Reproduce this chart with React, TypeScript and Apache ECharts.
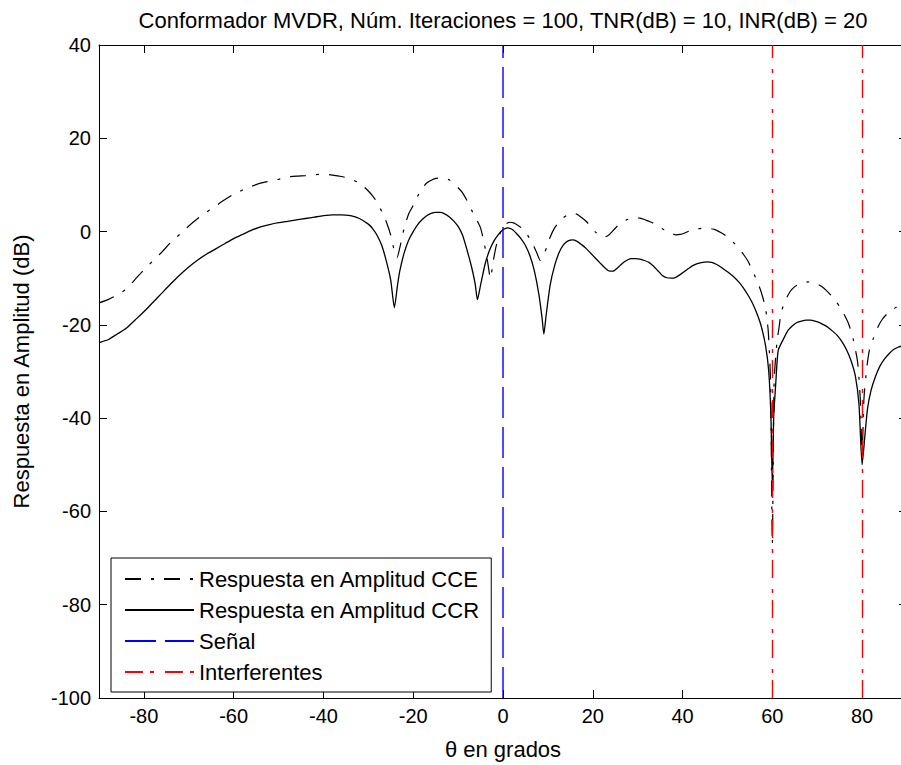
import React, { useEffect, useRef } from "react";
import * as echarts from "echarts";

const titleText = "Conformador MVDR, Núm. Iteraciones = 100, TNR(dB) = 10, INR(dB) = 20";
const xName = "θ en grados";
const yName = "Respuesta en Amplitud (dB)";
const seriesNames = [
  "Respuesta en Amplitud CCE",
  "Respuesta en Amplitud CCR",
  "Señal",
  "Interferentes",
];

const ccrTheta = [
  -90, -88, -86, -84, -82, -80, -78, -76, -74, -72, -70, -68, -66, -64, -62, -60, -58, -56, -54, -52,
  -50, -48, -46, -44, -42, -40, -38, -36, -34, -32, -30, -29, -28, -27, -26, -25, -24.2, -23.5, -23, -22,
  -21, -20, -19, -18, -17, -16, -15, -14, -13, -12, -11, -10, -9, -8, -7, -6.2, -5.7, -5, -4, -3,
  -2, -1, 0, 1, 2, 3, 4, 5, 6, 7, 8, 8.7, 9.1, 9.6, 10.5, 11.5, 12.5, 13.5, 14.5, 15.5,
  16.5, 17.5, 18.5, 19.5, 20.5, 21.5, 22.5, 23.5, 24.5, 25.5, 26.5, 27.5, 28.5, 29.5, 30.5, 31.5, 32.5, 33.5, 34.5, 35.5,
  36.5, 37.5, 38.5, 39.5, 40.5, 41.5, 42.5, 43.5, 44.5, 45.5, 46.5, 47.5, 48.5, 49.5, 50.5, 51.5, 52.5, 53.5, 54.5, 55.5,
  56.5, 57.5, 58.5, 59.2, 59.7, 60, 60.3, 60.8, 61.3, 62.5, 63.5, 64.5, 65.5, 66.5, 67.5, 68.5, 69.5, 70.5, 71.5, 72.5,
  73.5, 74.5, 75.5, 76.5, 77.5, 78.5, 79.3, 80, 80.6, 81.2, 82, 83, 84, 85, 86, 87, 88, 89, 90,
];
const ccrDb = [
  -23.8, -23.2, -22.0, -20.8, -19.0, -17.2, -15.2, -13.2, -11.2, -9.3, -7.6, -6.1, -4.8, -3.7, -2.6, -1.5, -0.6, 0.3, 1.0, 1.5,
  1.9, 2.2, 2.5, 2.8, 3.1, 3.4, 3.6, 3.6, 3.4, 2.8, 1.6, 0.6, -0.9, -3.0, -6.3, -10.5, -16.3, -11.5, -8.5, -4.5,
  -1.8, 0, 1.5, 2.6, 3.4, 3.9, 4.1, 4.1, 3.8, 3.2, 2.3, 1.1, -0.8, -4.0, -7.6, -11.2, -14.6, -11.5, -7.0, -4.0,
  -2.0, -0.6, 0.4, 0.8, 0.5, -0.4, -1.5, -3.0, -5.2, -8.5, -13.5, -18.5, -22, -18, -11.5, -7.3, -4.5, -2.8, -2.0, -1.8,
  -2.1, -2.8, -3.6, -4.6, -5.6, -6.6, -7.6, -8.4, -8.5, -7.8, -6.9, -6.2, -5.8, -5.8, -5.9, -6.2, -6.6, -7.4, -8.4, -9.4,
  -9.9, -10.0, -9.8, -9.2, -8.5, -7.8, -7.2, -6.8, -6.6, -6.5, -6.6, -7.0, -7.6, -8.3, -9.0, -9.8, -10.8, -12.0, -13.5, -15.2,
  -17.4, -20.2, -24.5, -30, -40, -54.5, -40, -32, -25.5, -23.0, -21.2, -20.2, -19.5, -19.2, -19.0, -19.0, -19.2, -19.5, -20.0, -20.6,
  -21.4, -22.3, -23.6, -25.3, -27.6, -31.0, -37, -50, -44, -38, -34, -31, -28.8, -27.3, -26.2, -25.3, -24.8, -24.5, -24.3,
];

const cceTheta = [
  -90, -88, -86, -84, -82, -80, -78, -76, -74, -72, -70, -68, -66, -64, -62, -60, -58, -56, -54, -52,
  -50, -48, -46, -44, -42, -40, -38, -36, -34, -32, -31, -30, -29, -28, -27, -26, -25, -24.2, -23.6, -23,
  -22, -21, -20, -19, -18, -17, -16, -15, -14, -13, -12, -11, -10, -9, -8, -7, -6, -5, -4.2, -3.5,
  -2.8, -2.2, -1.5, -0.5, 0.5, 1.5, 2.5, 3.5, 4.5, 5.5, 6.5, 7.5, 8.3, 9, 9.7, 10.5, 11.5, 12.5, 13.5, 14.5,
  15.5, 16.5, 17.5, 18.5, 19.5, 20.5, 21.5, 22.5, 23.5, 24.5, 25.5, 26.5, 27.5, 28.5, 29.5, 30.5, 31.5, 32.5, 33.5, 34.5,
  35.5, 36.5, 37.5, 38.5, 39.5, 40.5, 41.5, 42.5, 43.5, 44.5, 45.5, 46.5, 47.5, 48.5, 49.5, 50.5, 51.5, 52.5, 53.5, 54.5,
  55.5, 56.5, 57.5, 58.5, 59.1, 59.6, 60, 60.4, 61, 61.5, 62, 63, 64, 65, 66, 67, 68, 69, 70, 71,
  72, 73, 74, 75, 76, 77, 78, 79, 79.6, 80, 80.4, 81, 81.6, 82.5, 83.5, 84.5, 85.5, 86.5, 87.5, 88.5,
  89.5, 90,
];
const cceDb = [
  -15.3, -14.6, -13.6, -12.4, -10.3, -8.2, -6.3, -4.4, -2.3, -0.6, 1.2, 2.8, 4.2, 5.5, 6.8, 8.0, 8.9, 9.7, 10.4, 10.8,
  11.2, 11.7, 11.9, 12.0, 12.2, 12.3, 12.1, 11.8, 11.3, 10.4, 9.6, 8.7, 7.6, 6.2, 4.3, 2.1, -0.8, -4.2, -5.6, -3.5,
  0.8, 3.8, 5.6, 7.6, 9.3, 10.4, 11.0, 11.4, 11.5, 11.4, 11.1, 10.3, 9.4, 8.3, 6.6, 4.6, 2.8, 0.8, -2.5, -6,
  -10.0, -6.5, -3, 0, 1.5, 2.0, 1.8, 1.2, 0.5, -0.8, -2.4, -4.5, -6.2, -5, -3.5, -1.2, 0.8, 2.0, 3.0, 3.6,
  3.9, 3.7, 3.0, 2.2, 1.2, 0.0, -0.8, -1.2, -0.8, 0.2, 1.2, 2.0, 2.5, 2.8, 3.0, 2.9, 2.6, 2.2, 1.8, 1.2,
  0.6, 0.1, -0.4, -0.7, -0.6, -0.3, 0.1, 0.4, 0.6, 0.7, 0.7, 0.6, 0.3, -0.2, -0.8, -1.6, -2.5, -3.5, -4.8, -6.2,
  -8.2, -10.4, -12.9, -16.5, -21.5, -32, -67, -32, -24, -20.5, -17.2, -14.6, -12.8, -11.8, -11.2, -10.9, -10.8, -10.9, -11.2, -11.8,
  -12.6, -13.6, -14.8, -16.1, -17.8, -19.8, -23.0, -28, -36, -48, -36, -29.5, -25.5, -22.9, -20.5, -18.8, -17.7, -16.9, -16.3, -15.8,
  -15.5, -15.4,
];

const signalAngles = [0];
const interferenceAngles = [60, 80];
const xRange = [-90, 90];
const yRange = [-100, 40];

const FONT = '"Liberation Sans", Arial, sans-serif';

export default function App() {
  const ref = useRef<HTMLDivElement>(null);

  useEffect(() => {
    if (!ref.current) return;
    const chart = echarts.init(ref.current, undefined, { renderer: "svg" });

    const cceData = cceTheta.map((t, i) => [t, cceDb[i]]);
    const ccrData = ccrTheta.map((t, i) => [t, ccrDb[i]]);
    const signalData = [
      [signalAngles[0], yRange[0]],
      [signalAngles[0], yRange[1]],
    ];

    const axisLine = { show: true, onZero: false, lineStyle: { color: "#000", width: 1 } };
    const axisTick = { show: true, inside: true, length: 8, lineStyle: { color: "#000", width: 1 } };

    const xBase = {
      type: "value",
      min: xRange[0],
      max: xRange[1],
      splitNumber: 9,
      minInterval: 20,
      maxInterval: 20,
      splitLine: { show: false },
      axisLine,
      axisTick,
    };
    const yBase = {
      type: "value",
      min: yRange[0],
      max: yRange[1],
      interval: 20,
      splitLine: { show: false },
      axisLine,
      axisTick,
    };

    const option: any = {
      animation: false,
      backgroundColor: "#fff",
      textStyle: { fontFamily: FONT },
      grid: { left: 99, top: 45, width: 808, height: 656 },
      graphic: [
        {
          type: "text",
          x: 503,
          y: 20,
          style: {
            text: titleText,
            fontFamily: FONT,
            fontSize: 22,
            fill: "#000",
            align: "center",
            verticalAlign: "middle",
            textAlign: "center",
            textVerticalAlign: "middle",
          },
        },
      ],
      xAxis: [
        {
          ...xBase,
          position: "bottom",
          axisLabel: {
            show: true,
            color: "#000",
            fontSize: 20,
            fontFamily: FONT,
            margin: 8,
            showMinLabel: false,
            showMaxLabel: false,
          },
          name: xName,
          nameLocation: "middle",
          nameGap: 40,
          nameTextStyle: { fontSize: 22, color: "#000", fontFamily: FONT },
        },
        {
          ...xBase,
          position: "top",
          axisLabel: { show: false },
        },
      ],
      yAxis: [
        {
          ...yBase,
          position: "left",
          axisLabel: { show: true, color: "#000", fontSize: 20, fontFamily: FONT, margin: 8 },
          name: yName,
          nameLocation: "middle",
          nameGap: 67,
          nameRotate: 90,
          nameTextStyle: { fontSize: 22, color: "#000", fontFamily: FONT },
        },
        {
          ...yBase,
          position: "right",
          axisLabel: { show: false },
        },
      ],
      legend: {
        orient: "vertical",
        left: 111,
        top: 558,
        padding: [10, 11, 9, 13],
        itemGap: 9,
        itemWidth: 69,
        itemHeight: 14,
        borderColor: "#000",
        borderWidth: 1,
        borderRadius: 0,
        backgroundColor: "#fff",
        selectedMode: false,
        itemStyle: {
          color: "rgba(0,0,0,0)",
          borderColor: "rgba(0,0,0,0)",
          borderWidth: 0,
          opacity: 0,
        },
        textStyle: { fontSize: 22, color: "#000", fontFamily: FONT, lineHeight: 22 },
        data: seriesNames,
      },
      series: [
        {
          name: seriesNames[0],
          type: "line",
          data: cceData,
          symbol: "none",
          showSymbol: false,
          smooth: 0.2,
          lineStyle: { color: "#000", width: 1.2, type: [16, 10, 3, 10] },
          itemStyle: { color: "#000" },
          z: 2,
        },
        {
          name: seriesNames[1],
          type: "line",
          data: ccrData,
          symbol: "none",
          showSymbol: false,
          smooth: 0.2,
          lineStyle: { color: "#000", width: 1.3, type: "solid" },
          itemStyle: { color: "#000" },
          z: 3,
        },
        {
          name: seriesNames[2],
          type: "line",
          data: signalData,
          symbol: "none",
          showSymbol: false,
          lineStyle: { color: "#0000ff", width: 1.4, type: [31, 9] },
          itemStyle: { color: "#0000ff" },
          z: 4,
        },
        {
          name: seriesNames[3],
          type: "line",
          data: [],
          symbol: "none",
          showSymbol: false,
          lineStyle: { color: "#ff0000", width: 1.4, type: [18, 7, 4, 11] },
          itemStyle: { color: "#ff0000" },
          markLine: {
            silent: true,
            symbol: ["none", "none"],
            label: { show: false },
            lineStyle: { color: "#ff0000", width: 1.4, type: [18, 7, 4, 11] },
            data: interferenceAngles.map((a) => ({ xAxis: a })),
          },
          z: 5,
        },
      ],
    };

    chart.setOption(option);
    return () => chart.dispose();
  }, []);

  return (
    <div
      style={{
        position: "fixed",
        left: 0,
        top: 0,
        width: 901,
        height: 765,
        overflow: "hidden",
        background: "#fff",
      }}
    >
      <div ref={ref} style={{ width: 930, height: 765 }} />
    </div>
  );
}
